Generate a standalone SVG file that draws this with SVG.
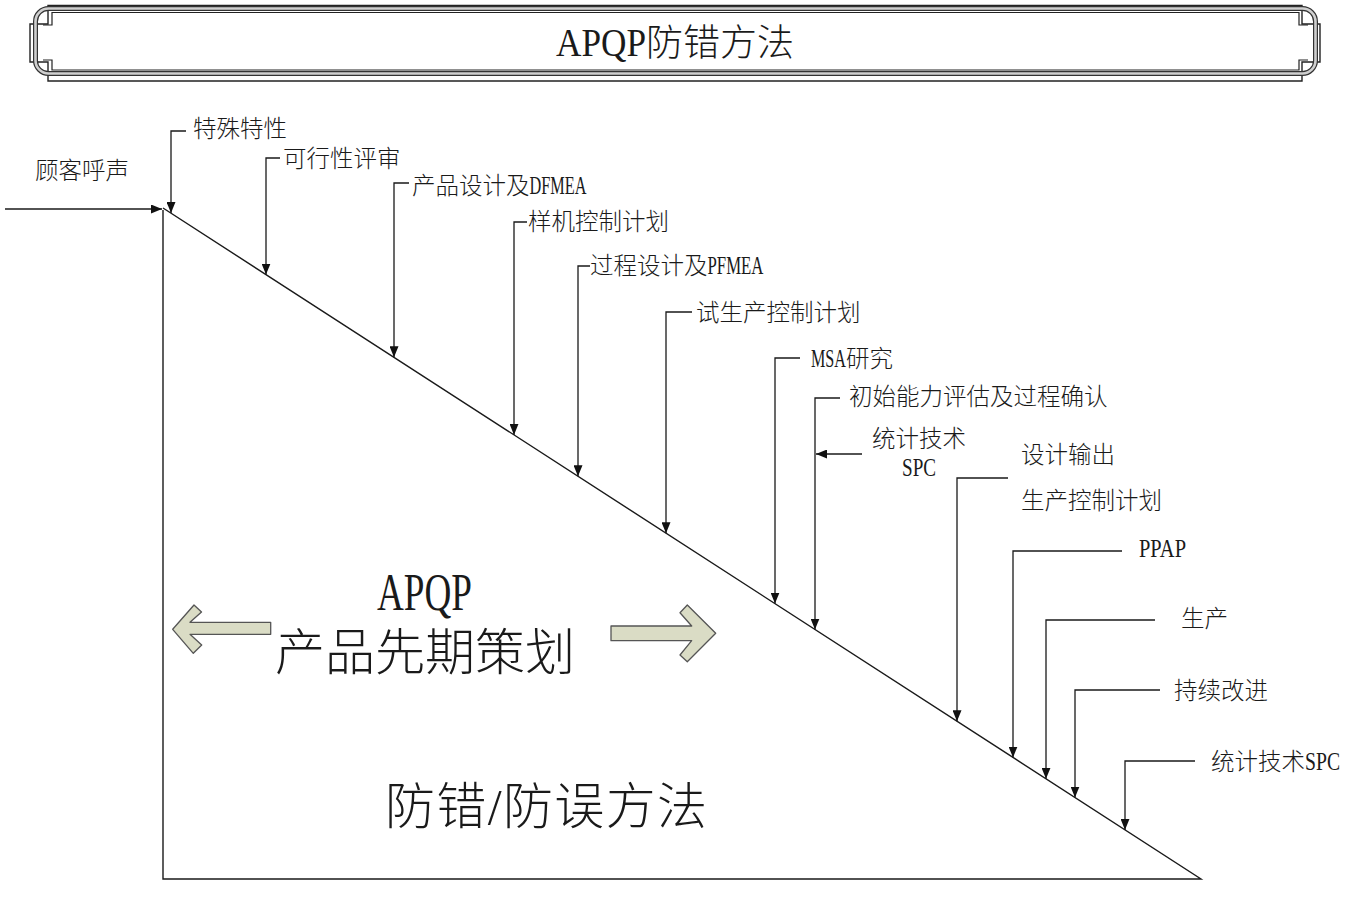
<svg xmlns="http://www.w3.org/2000/svg" width="1362" height="901" viewBox="0 0 1362 901">
<defs>
<marker id="ah" viewBox="0 0 11 9" refX="11" refY="4.5" markerWidth="11" markerHeight="9" markerUnits="userSpaceOnUse" orient="auto">
<path d="M0,0 L11,4.5 L0,9 Z" fill="#111"/>
</marker>
<style>
text{font-family:"Liberation Serif","Noto Sans CJK SC",serif;fill:#1a1a1a;font-weight:300;}
.lb{font-size:23.5px;}
.lt{font-size:25.5px;}
.big{font-size:50px;}
.cn{fill:none;stroke:#1a1a1a;stroke-width:1.3;marker-end:url(#ah);}
.fat{fill:#dadcc5;stroke:#555;stroke-width:1.3;stroke-linejoin:round;}
</style>
</defs>
<rect width="1362" height="901" fill="#fff"/>

<g id="title">
<path d="M48,5.5 H1302 V24 H1320 V62 H1302 V81 H48 V62 H30 V24 H48 Z" fill="none" stroke="#222" stroke-width="1.4"/>
<rect x="35.5" y="8.5" width="1280" height="65" rx="13" fill="none" stroke="#333" stroke-width="5"/>
<rect x="35.5" y="8.5" width="1280" height="65" rx="13" fill="none" stroke="#cfcfcf" stroke-width="2.6"/>
<path d="M43,25 H52 V12.5 H1299 V25 H1308 M43,60 H52 V70 H1299 V60 H1308" fill="none" stroke="#222" stroke-width="1.2"/>
<text x="556" y="56" style="font-size:37px"><tspan style="font-size:40px" textLength="90" lengthAdjust="spacingAndGlyphs">APQP</tspan>防错方法</text>
</g>

<g id="triangle">
<path d="M163,208 L1201,879 H163 V210" fill="none" stroke="#1a1a1a" stroke-width="1.4"/>
</g>

<g id="connectors">
<path class="cn" d="M5,209 H162"/>
<path class="cn" d="M186,131 H171 V213"/>
<path class="cn" d="M280,158 H266 V274.6"/>
<path class="cn" d="M409,183 H394 V357.3"/>
<path class="cn" d="M527,222 H514 V434.9"/>
<path class="cn" d="M590,266 H578 V476.3"/>
<path class="cn" d="M692,312 H666 V533.2"/>
<path class="cn" d="M800,358 H775 V603.6"/>
<path class="cn" d="M840,398 H815 V629.5"/>
<path class="cn" d="M862,454 H816"/>
<path class="cn" d="M1008,478 H957 V721.3"/>
<path class="cn" d="M1122,551 H1013 V757.5"/>
<path class="cn" d="M1155,620 H1046 V778.8"/>
<path class="cn" d="M1160,690 H1075 V797.5"/>
<path class="cn" d="M1195,761 H1125 V829.9"/>
</g>

<g id="arrow-left">
<path class="fat" d="M172.7,629.3 L194,605 L201.5,612 L190,622.3 H270.7 V634.3 H190 L201.7,645 L193.3,653.3 Z"/>
</g>
<g id="arrow-right">
<path class="fat" d="M611,626 H691.7 L680,612.7 L687.3,605 L715.7,633.3 L687.3,661.7 L680,655 L691.7,640.7 H611 Z"/>
</g>

<g id="n-voc"><text class="lb" x="35" y="179">顾客呼声</text></g>
<g id="n-special"><text class="lb" x="193" y="137">特殊特性</text></g>
<g id="n-feasibility"><text class="lb" x="283" y="167">可行性评审</text></g>
<g id="n-dfmea"><text class="lb" x="412" y="194">产品设计及<tspan class="lt" textLength="57" lengthAdjust="spacingAndGlyphs">DFMEA</tspan></text></g>
<g id="n-proto"><text class="lb" x="528" y="230">样机控制计划</text></g>
<g id="n-pfmea"><text class="lb" x="590" y="274">过程设计及<tspan class="lt" textLength="56" lengthAdjust="spacingAndGlyphs">PFMEA</tspan></text></g>
<g id="n-prelaunch"><text class="lb" x="696" y="321">试生产控制计划</text></g>
<g id="n-msa"><text class="lb" x="811" y="367"><tspan class="lt" textLength="35" lengthAdjust="spacingAndGlyphs">MSA</tspan><tspan x="846">研究</tspan></text></g>
<g id="n-capability"><text class="lb" x="849" y="405">初始能力评估及过程确认</text></g>
<g id="n-spc1"><text class="lb" x="919" y="447" text-anchor="middle">统计技术</text><text class="lt" x="919" y="476" text-anchor="middle" textLength="34" lengthAdjust="spacingAndGlyphs">SPC</text></g>
<g id="n-output"><text class="lb" x="1021" y="463">设计输出</text><text class="lb" x="1021" y="509">生产控制计划</text></g>
<g id="n-ppap"><text class="lt" x="1139" y="557" textLength="47" lengthAdjust="spacingAndGlyphs">PPAP</text></g>
<g id="n-production"><text class="lb" x="1181" y="627">生产</text></g>
<g id="n-improve"><text class="lb" x="1174" y="699">持续改进</text></g>
<g id="n-spc2"><text class="lb" x="1211" y="770">统计技术<tspan class="lt" textLength="35" lengthAdjust="spacingAndGlyphs">SPC</tspan></text></g>

<g id="center-text">
<text x="377" y="610" style="font-size:52px" textLength="95" lengthAdjust="spacingAndGlyphs">APQP</text>
<text class="big" x="275" y="669.5">产品先期策划</text>
<text class="big" x="385" y="824" textLength="322" lengthAdjust="spacing">防错/防误方法</text>
</g>
</svg>
